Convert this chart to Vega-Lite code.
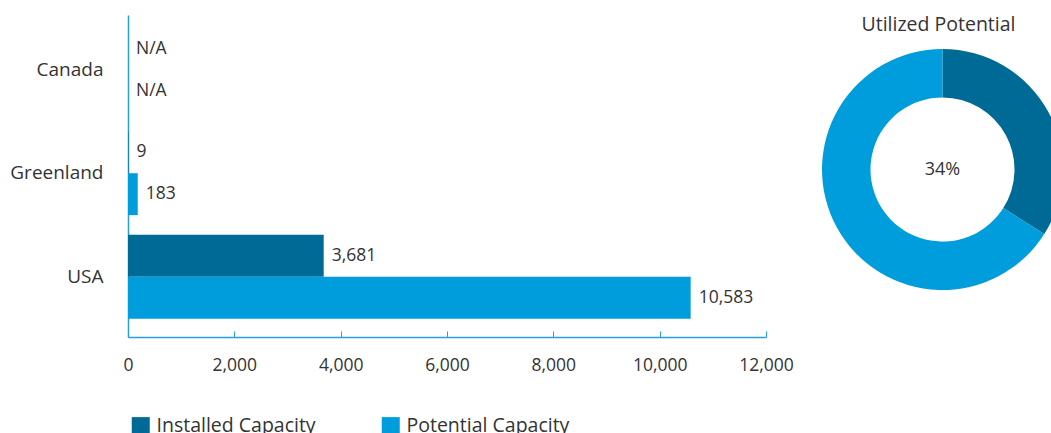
{
  "$schema": "https://vega.github.io/schema/vega-lite/v6.json",
  "padding": {"left": 9, "top": 14, "right": 0, "bottom": 0},
  "spacing": 28,
  "config": {
    "view": {"stroke": null},
    "font": "Open Sans",
    "axis": {"labelFont": "Open Sans", "labelColor": "#333333"},
    "legend": {"labelFont": "Open Sans"},
    "title": {"font": "Open Sans"}
  },
  "resolve": {"scale": {"color": "independent"}},
  "hconcat": [
    {
      "width": 638,
      "height": 322,
      "data": {
        "values": [
          {"country": "Canada", "series": "Installed Capacity", "value": 0, "label": "N/A"},
          {"country": "Canada", "series": "Potential Capacity", "value": 0, "label": "N/A"},
          {"country": "Greenland", "series": "Installed Capacity", "value": 9, "label": "9"},
          {"country": "Greenland", "series": "Potential Capacity", "value": 183, "label": "183"},
          {"country": "USA", "series": "Installed Capacity", "value": 3681, "label": "3,681"},
          {"country": "USA", "series": "Potential Capacity", "value": 10583, "label": "10,583"}
        ]
      },
      "encoding": {
        "y": {
          "field": "country",
          "type": "nominal",
          "sort": ["Canada", "Greenland", "USA"],
          "scale": {"paddingInner": 0.19, "paddingOuter": 0.15, "align": 0.41},
          "axis": {
            "title": null,
            "ticks": false,
            "domainColor": "#2AA0DA",
            "domainWidth": 1.5,
            "labelFontSize": 19,
            "labelPadding": 25
          }
        },
        "yOffset": {
          "field": "series",
          "type": "nominal",
          "sort": ["Installed Capacity", "Potential Capacity"],
          "scale": {"paddingInner": 0, "paddingOuter": 0}
        },
        "x": {
          "field": "value",
          "type": "quantitative",
          "scale": {"domain": [0, 12000]},
          "axis": {
            "title": null,
            "grid": false,
            "values": [0, 2000, 4000, 6000, 8000, 10000, 12000],
            "format": ",d",
            "labelFlush": false,
            "domainColor": "#2AA0DA",
            "domainWidth": 1.5,
            "tickColor": "#2AA0DA",
            "tickSize": -6,
            "labelFontSize": 17.5,
            "labelPadding": 25
          }
        }
      },
      "layer": [
        {
          "mark": {"type": "bar"},
          "encoding": {
            "color": {
              "field": "series",
              "type": "nominal",
              "scale": {"domain": ["Installed Capacity", "Potential Capacity"], "range": ["#006A96", "#009DDC"]},
              "legend": {
                "title": null,
                "orient": "none",
                "direction": "horizontal",
                "legendX": 3,
                "legendY": 401,
                "symbolType": "square",
                "symbolSize": 324,
                "symbolStrokeWidth": 0,
                "labelFontSize": 19.5,
                "labelColor": "#333333",
                "labelLimit": 300,
                "labelOffset": 6,
                "columnPadding": 65
              }
            }
          }
        },
        {
          "mark": {"type": "text", "align": "left", "baseline": "middle", "dx": 8, "fontSize": 17.5, "color": "#333333"},
          "encoding": {"text": {"field": "label"}}
        }
      ]
    },
    {
      "width": 241,
      "height": 309,
      "layer": [
        {
          "data": {
            "values": [
              {"series": "Installed Capacity", "share": 34},
              {"series": "Potential Capacity", "share": 66}
            ]
          },
          "mark": {"type": "arc", "innerRadius": 72, "outerRadius": 120.5},
          "encoding": {
            "theta": {"field": "share", "type": "quantitative", "stack": true},
            "color": {
              "field": "series",
              "type": "nominal",
              "scale": {"domain": ["Installed Capacity", "Potential Capacity"], "range": ["#006A96", "#009DDC"]},
              "legend": null
            }
          }
        },
        {
          "data": {"values": [{"label": "34%"}]},
          "mark": {"type": "text", "fontSize": 18, "color": "#333333"},
          "encoding": {"text": {"field": "label"}}
        },
        {
          "data": {"values": [{"label": "Utilized Potential"}]},
          "mark": {"type": "text", "fontSize": 19.5, "color": "#333333", "baseline": "middle", "dy": -145, "dx": -4},
          "encoding": {"text": {"field": "label"}}
        }
      ]
    }
  ]
}
